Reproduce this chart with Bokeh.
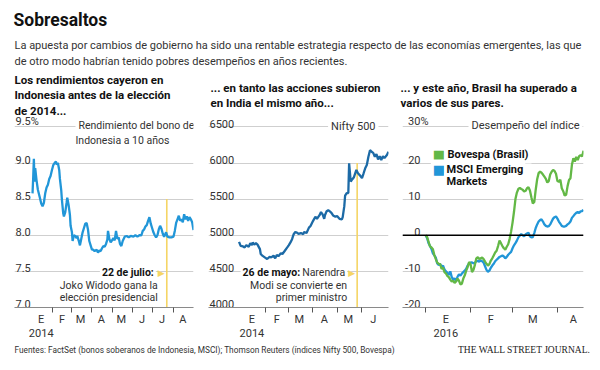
import pandas as pd
from bokeh.plotting import figure
from bokeh.layouts import column, row
from bokeh.models import Range1d, Label, FixedTicker, Span, Grid
from bokeh.embed import file_html
from bokeh.resources import INLINE
from bokeh.core.properties import value

FONT = "Roboto"
SERIF = "Liberation Serif"
SYM = "DejaVu Sans"

# ---------------- data ----------------
idn_dates = [
    "2014-01-02", "2014-01-03", "2014-01-04", "2014-01-05", "2014-01-06", "2014-01-08", "2014-01-10", "2014-01-13", "2014-01-15", "2014-01-17", "2014-01-19", "2014-01-21", "2014-01-23", "2014-01-25", "2014-01-27", "2014-01-29", "2014-01-31",
    "2014-02-02", "2014-02-04", "2014-02-06", "2014-02-07", "2014-02-09", "2014-02-11", "2014-02-12", "2014-02-14", "2014-02-15", "2014-02-17", "2014-02-18", "2014-02-20", "2014-02-22", "2014-02-23", "2014-02-25", "2014-02-27", "2014-02-28",
    "2014-03-02", "2014-03-03", "2014-03-05", "2014-03-07", "2014-03-09", "2014-03-10", "2014-03-12", "2014-03-14", "2014-03-16", "2014-03-18", "2014-03-20", "2014-03-22", "2014-03-24", "2014-03-26", "2014-03-28", "2014-03-30",
    "2014-04-01", "2014-04-03", "2014-04-05", "2014-04-08", "2014-04-10", "2014-04-12", "2014-04-14", "2014-04-16", "2014-04-18", "2014-04-20", "2014-04-22", "2014-04-24", "2014-04-25", "2014-04-27", "2014-04-29",
    "2014-05-01", "2014-05-03", "2014-05-05", "2014-05-07", "2014-05-09", "2014-05-11", "2014-05-13", "2014-05-15", "2014-05-17", "2014-05-20", "2014-05-23", "2014-05-26", "2014-05-29",
    "2014-06-02", "2014-06-05", "2014-06-08", "2014-06-11", "2014-06-14", "2014-06-16", "2014-06-18", "2014-06-20", "2014-06-22", "2014-06-24", "2014-06-26", "2014-06-28", "2014-06-30",
    "2014-07-02", "2014-07-04", "2014-07-06", "2014-07-08", "2014-07-10", "2014-07-12", "2014-07-14", "2014-07-16", "2014-07-18", "2014-07-21", "2014-07-23", "2014-07-26", "2014-07-29",
    "2014-08-01", "2014-08-03", "2014-08-05", "2014-08-07", "2014-08-09", "2014-08-11", "2014-08-13", "2014-08-15", "2014-08-17", "2014-08-19", "2014-08-21", "2014-08-23", "2014-08-25", "2014-08-27", "2014-08-29", "2014-08-31",
]
idn_yield = [
    8.58, 8.80, 9.06, 8.74, 8.93, 8.76, 8.63, 8.52, 8.44, 8.40, 8.45, 8.58, 8.66, 8.70, 8.78, 8.82, 8.90,
    8.97, 9.00, 9.02, 8.98, 9.00, 8.90, 8.78, 8.62, 8.49, 8.30, 8.26, 8.32, 8.45, 8.52, 8.42, 8.28, 8.13,
    8.04, 7.92, 8.00, 7.99, 7.96, 7.99, 7.93, 7.86, 7.95, 8.04, 8.10, 8.16, 8.17, 8.08, 7.92, 7.86,
    7.80, 7.80, 7.78, 7.80, 7.76, 7.79, 7.78, 7.82, 7.85, 7.84, 7.88, 7.94, 8.06, 7.95, 7.90,
    7.93, 7.96, 7.93, 8.06, 7.95, 7.97, 7.88, 7.85, 7.92, 7.98, 7.99, 7.97, 7.99,
    7.98, 8.00, 7.98, 8.00, 8.00, 8.06, 8.08, 8.12, 8.14, 8.20, 8.25, 8.16, 8.10,
    8.04, 8.00, 7.97, 8.00, 8.08, 8.13, 8.09, 8.02, 7.98, 8.04, 7.98, 7.97, 7.97,
    7.98, 8.06, 8.17, 8.22, 8.27, 8.20, 8.22, 8.18, 8.29, 8.22, 8.26, 8.20, 8.25, 8.22, 8.18, 8.07,
]

nifty_dates = [
    "2013-12-30",
    "2014-01-01", "2014-01-04", "2014-01-06", "2014-01-08", "2014-01-11", "2014-01-13", "2014-01-15", "2014-01-16", "2014-01-18", "2014-01-20", "2014-01-22", "2014-01-25", "2014-01-26", "2014-01-28", "2014-01-31",
    "2014-02-03", "2014-02-06", "2014-02-08", "2014-02-11", "2014-02-13", "2014-02-15", "2014-02-17", "2014-02-20", "2014-02-22", "2014-02-25", "2014-02-28",
    "2014-03-02", "2014-03-04", "2014-03-06", "2014-03-08", "2014-03-10", "2014-03-12", "2014-03-14", "2014-03-17", "2014-03-20", "2014-03-21", "2014-03-24", "2014-03-27", "2014-03-29",
    "2014-04-01", "2014-04-04", "2014-04-06", "2014-04-09", "2014-04-11", "2014-04-13", "2014-04-15", "2014-04-16", "2014-04-18", "2014-04-20", "2014-04-22", "2014-04-24", "2014-04-26", "2014-04-29",
    "2014-05-01", "2014-05-04", "2014-05-07", "2014-05-08", "2014-05-10", "2014-05-11", "2014-05-13", "2014-05-15", "2014-05-16", "2014-05-18", "2014-05-20", "2014-05-22", "2014-05-25", "2014-05-27", "2014-05-30",
    "2014-06-01", "2014-06-03", "2014-06-05", "2014-06-07", "2014-06-09", "2014-06-11", "2014-06-13", "2014-06-15", "2014-06-17", "2014-06-19", "2014-06-21", "2014-06-23", "2014-06-25", "2014-06-27", "2014-06-29",
    "2014-07-02", "2014-07-04",
]
nifty_values = [
    4908,
    4853, 4845, 4831, 4863, 4840, 4890, 4863, 4900, 4870, 4890, 4870, 4808, 4740, 4717, 4694,
    4671, 4700, 4694, 4717, 4680, 4726, 4710, 4749, 4740, 4785, 4831,
    4863, 4900, 4945, 5014, 5045, 5037, 5020, 5030, 5014, 5045, 5030, 5105, 5128,
    5196, 5256, 5228, 5274, 5320, 5288, 5228, 5280, 5333, 5347, 5330, 5310, 5274, 5256,
    5265, 5228, 5219, 5250, 5402, 5548, 5584, 5584, 5995, 5744, 5776, 5804, 5904, 5858, 5822,
    5790, 5858, 5927, 5973, 6087, 6178, 6155, 6140, 6087, 6123, 6050, 6095, 6041, 6095, 6070,
    6110, 6155,
]

br_dates = pd.date_range("2016-01-01", periods=110, freq="D")
bovespa = [
    0, -0.5, -1.8, -3.1, -3.4, -3.9, -5.5, -6.6, -7.6, -7.9,
    -8.0, -9.3, -9.0, -10.2, -10.6, -11.3, -11.6, -12.3, -12.8, -12.6,
    -13.2, -12.8, -12.0, -12.6, -13.6, -13.4, -12.0, -11.1, -9.8, -8.8,
    -7.4, -8.0, -10.2, -9.6, -8.2, -6.4, -6.1, -6.6, -6.4, -6.2,
    -6.6, -7.3, -7.9, -8.4, -8.0, -7.0, -6.4, -5.6, -4.8, -4.3,
    -3.0, -1.5, -2.2, -3.0, -3.6, -4.0, -3.2, -2.5, -1.0, 1.0,
    3.5, 6.5, 10.0, 11.8, 12.8, 13.1, 12.8, 12.6, 12.1, 12.3,
    13.0, 13.3, 12.4, 10.5, 8.8, 9.2, 12.6, 15.5, 17.2, 17.6,
    17.3, 16.8, 16.2, 15.6, 14.6, 15.0, 16.8, 17.6, 18.1, 17.8,
    17.0, 15.0, 14.8, 15.4, 13.0, 12.2, 11.0, 11.2, 13.6, 15.3,
    15.8, 19.5, 21.3, 20.4, 21.7, 20.8, 21.9, 22.2, 21.8, 23.4,
]
msci = [
    0, -0.8, -2.2, -3.0, -3.8, -5.0, -5.6, -6.2, -7.8, -8.2,
    -8.0, -8.7, -8.4, -9.5, -10.0, -10.4, -11.0, -10.0, -11.6, -12.3,
    -11.9, -12.8, -11.5, -10.8, -11.2, -10.6, -10.2, -9.8, -9.3, -8.4,
    -7.8, -7.6, -7.5, -7.8, -7.6, -7.2, -7.1, -7.3, -7.0, -7.2,
    -7.6, -8.6, -9.6, -10.1, -9.8, -9.0, -8.4, -7.9, -7.2, -6.8,
    -6.4, -6.0, -5.8, -5.6, -5.9, -6.4, -6.0, -5.4, -5.0, -4.6,
    -3.6, -2.8, -2.2, -1.5, -0.6, -0.1, 0.3, 0.0, -0.3, 0.2,
    0.5, 0.7, -0.3, -0.6, -0.5, 0.6, 2.0, 3.0, 3.8, 4.2,
    4.4, 3.8, 3.0, 2.6, 2.4, 2.5, 3.0, 3.8, 4.6, 5.0,
    5.2, 4.6, 3.8, 3.2, 2.6, 2.4, 2.4, 2.6, 3.0, 3.3,
    3.8, 4.8, 5.3, 5.8, 6.2, 6.4, 6.2, 6.6, 6.7, 7.0,
]

# axis ticks / labels
idn_yticks = [7.0, 7.5, 8.0, 8.5, 9.0, 9.5]
idn_ylabels = ["7.0", "7.5", "8.0", "8.5", "9.0", "9.5%"]
idn_month_starts = ["2014-02-01", "2014-03-01", "2014-04-01", "2014-05-01", "2014-06-01", "2014-07-01", "2014-08-01"]
idn_month_mids = ["2014-01-15", "2014-02-15", "2014-03-15", "2014-04-15", "2014-05-15", "2014-06-15", "2014-07-15", "2014-08-15"]
idn_month_labels = ["E\n2014", "F", "M", "A", "M", "J", "J", "A"]

nifty_yticks = [4000, 4500, 5000, 5500, 6000, 6500]
nifty_ylabels = ["4000", "4500", "5000", "5500", "6000", "6500"]
nifty_month_starts = ["2014-02-01", "2014-03-01", "2014-04-01", "2014-05-01", "2014-06-01"]
nifty_month_mids = ["2014-01-15", "2014-02-15", "2014-03-15", "2014-04-15", "2014-05-15", "2014-06-15"]
nifty_month_labels = ["E\n2014", "F", "M", "A", "M", "J"]

br_yticks = [-20, -10, 0, 10, 20, 30]
br_ylabels = ["-20", "-10", "0", "10", "20", "30%"]
br_month_starts = ["2016-01-01", "2016-02-01", "2016-03-01", "2016-04-01"]
br_month_mids = ["2016-01-15", "2016-02-15", "2016-03-15", "2016-04-12"]
br_month_labels = ["E\n2016", "F", "M", "A"]

# colours
BLUE = "#2196d8"
DARK_BLUE = "#1c6aa6"
GREEN = "#63b846"
YELLOW = "#f5d565"
GRID = "#cfcfcf"
TXT = "#333333"
INK = "#111111"

HDR_H = 116
FRAME_H = 193
BOTTOM = 33
PANEL_H = FRAME_H + BOTTOM
FTR_H = 370 - HDR_H - PANEL_H


def ms(d):
    return pd.Timestamp(d).timestamp() * 1000.0


def label(p, x, y, text, size="10.5px", bold=False, color=TXT, align="left",
          baseline="middle", font=FONT, xu="screen", yu="screen", bg=None,
          x_offset=0, y_offset=0, pad=2):
    kw = dict(x=x, y=y, text=text, x_units=xu, y_units=yu,
              text_font=font, text_font_size=size,
              text_font_style="bold" if bold else "normal",
              text_color=color, text_align=align, text_baseline=baseline,
              x_offset=x_offset, y_offset=y_offset)
    if bg:
        kw.update(background_fill_color=bg, padding=pad)
    p.add_layout(Label(**kw))


def panel(width, bl, br, x_start, x_end, y_start, y_end, yticks, ylabels,
          ylab_align, ylab_dx, mids, mlabels, starts):
    eps = (y_end - y_start) * 2e-4
    p = figure(width=width, height=PANEL_H, x_axis_type="datetime",
               y_axis_location=None,
               x_range=Range1d(ms(x_start), ms(x_end)),
               y_range=Range1d(y_start - eps, y_end),
               toolbar_location=None, output_backend="svg",
               min_border_left=bl, min_border_right=br,
               min_border_top=0, min_border_bottom=BOTTOM)
    p.outline_line_color = None
    p.xgrid.visible = False
    p.ygrid.visible = False
    g = Grid(dimension=1, ticker=FixedTicker(ticks=yticks),
             grid_line_color=GRID, grid_line_width=1)
    p.add_layout(g, "center")

    ax = p.xaxis[0]
    ax.ticker = FixedTicker(ticks=[ms(d) for d in mids],
                            minor_ticks=[ms(d) for d in starts])
    ax.major_label_overrides = {ms(d): l for d, l in zip(mids, mlabels)}
    ax.major_tick_out = 0
    ax.major_tick_in = 0
    ax.minor_tick_out = 5
    ax.minor_tick_in = 0
    ax.minor_tick_line_color = "#555555"
    ax.minor_tick_line_width = 1
    ax.axis_line_color = "#8a8a8a"
    ax.axis_line_width = 1
    ax.major_label_standoff = 0
    ax.major_label_text_font = FONT
    ax.major_label_text_font_size = "11px"
    ax.major_label_text_color = TXT
    ax.major_label_text_line_height = 1.1

    p.text(x=[ms(x_start)] * len(yticks), y=yticks, text=ylabels,
           text_font=value(FONT), text_font_size="11px", text_color=TXT,
           text_align=ylab_align, text_baseline="bottom",
           x_offset=ylab_dx, y_offset=1)
    return p


# ---------------- header ----------------
hdr = figure(width=600, height=HDR_H, x_range=Range1d(0, 600), y_range=Range1d(HDR_H, 0),
             toolbar_location=None, output_backend="svg", min_border=0,
             x_axis_location=None, y_axis_location=None)
hdr.outline_line_color = None
hdr.grid.visible = False
label(hdr, 13, 19, "Sobresaltos", size="17.5px", bold=True, color=INK, xu="data", yu="data")
label(hdr, 14, 45, "La apuesta por cambios de gobierno ha sido una rentable estrategia respecto de las economías emergentes, las que",
      size="11px", xu="data", yu="data")
label(hdr, 14, 61, "de otro modo habrían tenido pobres desempeños en años recientes.",
      size="11px", xu="data", yu="data")
for i, t in enumerate(["Los rendimientos cayeron en", "Indonesia antes de la elección", "de 2014..."]):
    label(hdr, 14, 79 + 15.5 * i, t, size="11.5px", bold=True, color=INK, xu="data", yu="data")
for i, t in enumerate(["... en tanto las acciones subieron", "en India el mismo año..."]):
    label(hdr, 210, 87 + 15.5 * i, t, size="11.5px", bold=True, color=INK, xu="data", yu="data")
for i, t in enumerate(["... y este año, Brasil ha superado a", "varios de sus pares."]):
    label(hdr, 400, 87 + 15.5 * i, t, size="11.5px", bold=True, color=INK, xu="data", yu="data")

# ---------------- panel 1 ----------------
p1 = panel(203, 14, 10, "2013-12-06", idn_dates[-1], 7.0, 9.644,
           idn_yticks, idn_ylabels, "left", 1,
           idn_month_mids, idn_month_labels, idn_month_starts)
ev1 = ms("2014-07-22")
p1.segment(x0=[ev1], y0=[7.0], x1=[ev1], y1=[8.5], line_color=YELLOW, line_width=1.6)
p1.line(pd.to_datetime(idn_dates), idn_yield, line_color=BLUE, line_width=2.3)
label(p1, 61, 182, "Rendimiento del bono de", bg="white", pad=3)
label(p1, 61, 167, "Indonesia a 10 años")
label(p1, ev1, 35, "22 de julio:", bold=True, color=INK, align="right", xu="data", x_offset=-11, bg="white")
label(p1, ev1, 35, "\u25B6", size="9px", color=YELLOW, align="right", xu="data", x_offset=-2, font=SYM)
label(p1, ev1, 22.5, "Joko Widodo gana la", align="right", xu="data", x_offset=-9)
label(p1, ev1, 10, "elección presidencial", align="right", xu="data", x_offset=-9)

# ---------------- panel 2 ----------------
p2 = panel(195, 5, 10, "2013-11-22", nifty_dates[-1], 4000, 6644,
           nifty_yticks, nifty_ylabels, "left", 1,
           nifty_month_mids, nifty_month_labels, nifty_month_starts)
ev2 = ms("2014-05-26")
p2.segment(x0=[ev2], y0=[4000], x1=[ev2], y1=[6000], line_color=YELLOW, line_width=1.6)
p2.line(pd.to_datetime(nifty_dates), nifty_values, line_color=DARK_BLUE, line_width=2.3)
label(p2, 170, 181.5, "Nifty 500", size="11px", align="right", bg="white", pad=3)
label(p2, ev2, 35, "Narendra", align="right", xu="data", x_offset=-10, bg="white")
label(p2, ev2, 35, "26 de mayo:", bold=True, color=INK, align="right", xu="data", x_offset=-55, bg="white")
label(p2, ev2, 35, "\u25B6", size="9px", color=YELLOW, align="right", xu="data", x_offset=-2, font=SYM)
label(p2, ev2, 22.5, "Modi se convierte en", align="right", xu="data", x_offset=-10)
label(p2, ev2, 10, "primer ministro", align="right", xu="data", x_offset=-10)

# ---------------- panel 3 ----------------
# right-aligned tick labels; the top one carries the "%" sign past the column
p3 = panel(201, 4, 16, "2015-12-16", "2016-04-19", -20, 32.88,
           br_yticks, br_ylabels, "right", [18, 18, 18, 18, 18, 26],
           br_month_mids, br_month_labels, br_month_starts)
p3.add_layout(Span(location=0, dimension="width", line_color="black", line_width=1.5))
p3.line(br_dates, msci, line_color=BLUE, line_width=2.3)
p3.line(br_dates, bovespa, line_color=GREEN, line_width=2.3)
label(p3, 180, 182, "Desempeño del índice", size="11px", align="right", bg="white", pad=3)
label(p3, 36.5, 153.5, "\u25A0", size="13px", color=GREEN, align="center", font=SYM, bg="white", pad=2)
label(p3, 42, 153.5, "Bovespa (Brasil)", size="11px", bold=True, color=INK, bg="white", pad=3)
label(p3, 36.5, 138.5, "\u25A0", size="13px", color=BLUE, align="center", font=SYM, bg="white", pad=2)
label(p3, 42, 138.5, "MSCI Emerging", size="11px", bold=True, color=INK, bg="white", pad=2)
label(p3, 42, 126, "Markets", size="11px", bold=True, color=INK, bg="white", pad=2)

# ---------------- footer ----------------
ftr = figure(width=600, height=FTR_H, x_range=Range1d(0, 600), y_range=Range1d(FTR_H, 0),
             toolbar_location=None, output_backend="svg", min_border=0,
             x_axis_location=None, y_axis_location=None)
ftr.outline_line_color = None
ftr.grid.visible = False
foot_y = 349 - HDR_H - PANEL_H
label(ftr, 14, foot_y, "Fuentes: FactSet (bonos soberanos de Indonesia, MSCI); Thomson Reuters (índices Nifty 500, Bovespa)",
      size="8.3px", xu="data", yu="data")
label(ftr, 590, foot_y, "THE WALL STREET JOURNAL.", size="9.5px", font=SERIF, color="#222222",
      align="right", xu="data", yu="data")

layout = column(hdr, row(p1, p2, p3), ftr)
open("out.html", "w").write(file_html(layout, INLINE))
